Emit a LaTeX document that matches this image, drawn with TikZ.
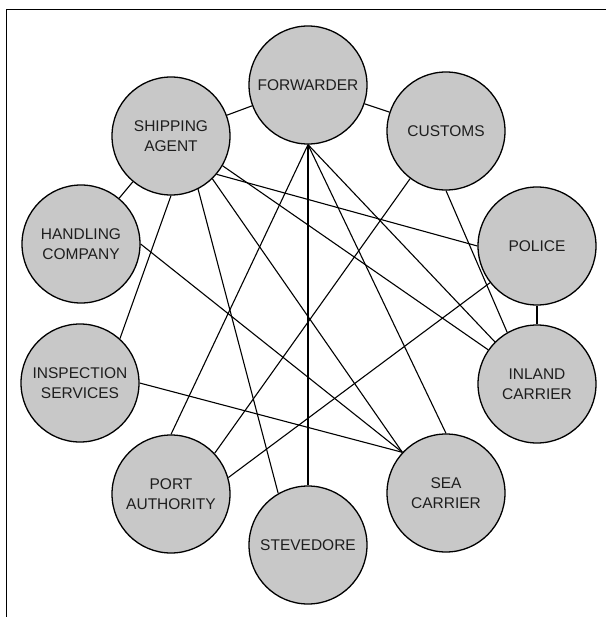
\documentclass[tikz,border=0pt]{standalone}
\usepackage{fontspec}
\setmainfont{Liberation Sans}
\definecolor{partyfill}{HTML}{C8C8C8}
\definecolor{partytext}{HTML}{1E1E1E}

\begin{document}
\begin{tikzpicture}[x=1pt, y=-1pt,
    party/.style={circle, draw=black, line width=1.3pt, fill=partyfill,
        minimum size=118pt, inner sep=0pt, align=center, text=partytext,
        font=\fontsize{15.5}{20}\selectfont},
    link/.style={draw=black, line width=1.1pt}]
    \useasboundingbox (0,0) rectangle (606,617);
    % frame, only top and left edge are visible
    \draw[line width=0.8pt] (606,9) -- (6,9) -- (6,617);
    % the parties
    \foreach \id/\x/\y/\txt in {fwd/308/85/FORWARDER, cus/446/131/CUSTOMS,
        pol/537/246/POLICE, inl/537/384/{INLAND\\CARRIER},
        sea/446/493/{SEA\\CARRIER}, stev/308/545/STEVEDORE,
        pa/171/494/{PORT\\AUTHORITY}, insp/80/383/{INSPECTION\\SERVICES},
        hand/81/244/{HANDLING\\COMPANY}, sa/171/136/{SHIPPING\\AGENT}}
        \node[party] (\id) at (\x,\y) {\txt};
    % the links
    \foreach \a/\b in {sa/fwd, fwd/cus, sa/hand, pol.south/inl.north,
        fwd.south/stev.north, fwd.south/pa.north, fwd.south/sea.north,
        fwd.south/inl.135, cus.south/inl.120, cus.233/pa.43, pol.218/pa.16,
        hand.east/sea.137, insp.east/sea.137, sa.south/insp.48,
        sa.-63/stev.120, sa.-46/sea.137, sa.-40/pol.west, sa.-30/inl.145}
        \draw[link] (\a) -- (\b);
\end{tikzpicture}
\end{document}
